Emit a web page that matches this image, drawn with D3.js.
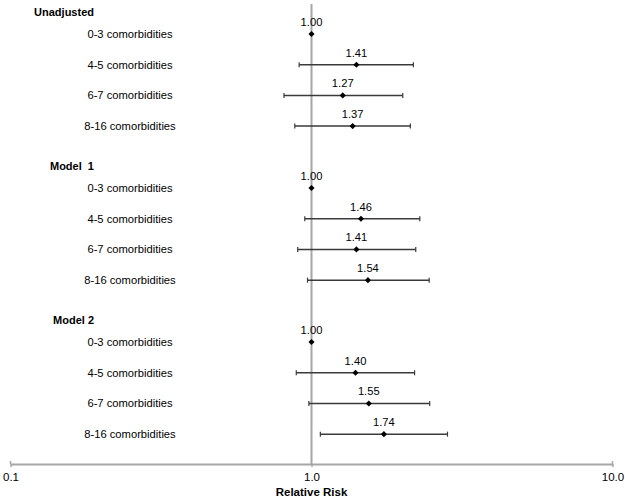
<!DOCTYPE html>
<html lang="en">
<head>
<meta charset="UTF-8">
<script src="https://d3js.org/d3.v7.min.js"></script>
<style>
  body { margin: 0; background: #fff; }
  text { font-family: "Liberation Sans", Arial, sans-serif; fill: #000; }
</style>
</head>
<body>
<svg id="chart" width="625" height="499"></svg>
<script>
// data
const groups = ["Unadjusted", "Model  1", "Model 2"];
const categories = ["0-3 comorbidities", "4-5 comorbidities", "6-7 comorbidities", "8-16 comorbidities"];
const rr    = [[1.00, 1.41, 1.27, 1.37], [1.00, 1.46, 1.41, 1.54], [1.00, 1.40, 1.55, 1.74]];
const lower = [[1.00, 0.91, 0.81, 0.88], [1.00, 0.95, 0.90, 0.97], [1.00, 0.89, 0.98, 1.07]];
const upper = [[1.00, 2.18, 2.01, 2.13], [1.00, 2.29, 2.22, 2.46], [1.00, 2.20, 2.47, 2.83]];
const tickValues = [0.1, 1, 10];
const tickLabels = ["0.1", "1.0", "10.0"];

const svg = d3.select("#chart");
const x = d3.scaleLog().domain([0.1, 10]).range([10.5, 612.5]);
// slot index -> vertical position
const y = d3.scaleLinear().domain([0, 1]).range([12, 42.7]);
const groupSlots = 5.017, headGap = 0.717;
const axisY = 464;

// reference line at 1.0
svg.append("line")
  .attr("x1", x(1)).attr("x2", x(1))
  .attr("y1", 4).attr("y2", axisY)
  .attr("stroke", "#a6a6a6").attr("stroke-width", 2);

// x axis
const axis = d3.axisBottom(x).tickValues(tickValues)
  .tickFormat((d, i) => tickLabels[i]).tickSize(3).tickSizeOuter(0);
const ax = svg.append("g").attr("transform", `translate(0,${axisY})`).call(axis);
ax.select(".domain").attr("stroke", "#a6a6a6").attr("stroke-width", 2);
ax.selectAll(".tick line").attr("stroke", "#a6a6a6").attr("stroke-width", 1.5);
ax.selectAll(".tick text").attr("font-size", 11.5).attr("dy", "0.35em").attr("y", 13)
  .attr("font-family", "Liberation Sans, Arial, sans-serif").attr("fill", "#000");
// small end caps at both ends of the axis
svg.selectAll(".endcap").data([0.1, 10]).enter().append("line")
  .attr("x1", d => x(d)).attr("x2", d => x(d))
  .attr("y1", axisY - 3).attr("y2", axisY)
  .attr("stroke", "#a6a6a6").attr("stroke-width", 1.5);

svg.append("text")
  .attr("x", x(1)).attr("y", 492).attr("dy", "0.35em")
  .attr("text-anchor", "middle").attr("font-size", 11.5).attr("font-weight", "bold")
  .text("Relative Risk");

groups.forEach((g, gi) => {
  const base = gi * groupSlots;
  svg.append("text")
    .attr("x", 94).attr("y", y(base)).attr("dy", "0.35em")
    .attr("text-anchor", "end").attr("font-size", 11).attr("font-weight", "bold")
    .style("white-space", "pre")
    .text(g);

  const rows = categories.map((c, i) => ({
    cat: c, rr: rr[gi][i], lo: lower[gi][i], hi: upper[gi][i], cy: y(base + headGap + i)
  }));

  const row = svg.append("g").selectAll("g").data(rows).enter().append("g");

  row.append("text")
    .attr("x", 130).attr("y", d => d.cy).attr("dy", "0.35em")
    .attr("text-anchor", "middle").attr("font-size", 11.2)
    .text(d => d.cat);

  const ci = row.filter(d => d.hi > d.lo);
  ci.append("line")
    .attr("x1", d => x(d.lo)).attr("x2", d => x(d.hi))
    .attr("y1", d => d.cy).attr("y2", d => d.cy)
    .attr("stroke", "#3a3a3a").attr("stroke-width", 1.5);
  ci.selectAll(".cap").data(d => [[d.lo, d.cy], [d.hi, d.cy]]).enter().append("line")
    .attr("x1", d => x(d[0])).attr("x2", d => x(d[0]))
    .attr("y1", d => d[1] - 2.5).attr("y2", d => d[1] + 2.5)
    .attr("stroke", "#3a3a3a").attr("stroke-width", 1.2);

  row.append("path")
    .attr("d", d3.symbol().type(d3.symbolDiamond2).size(24))
    .attr("transform", d => `translate(${x(d.rr)},${d.cy})`)
    .attr("fill", "#000");

  row.append("text")
    .attr("x", d => x(d.rr)).attr("y", d => d.cy - 12).attr("dy", "0.35em")
    .attr("text-anchor", "middle").attr("font-size", 11.2)
    .text(d => d.rr.toFixed(2));
});
</script>
</body>
</html>
